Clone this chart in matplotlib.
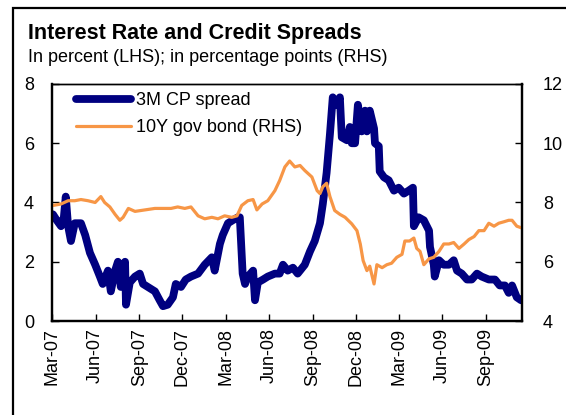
import matplotlib
matplotlib.use("Agg")
import matplotlib.pyplot as plt
import matplotlib.dates as mdates
import matplotlib.patches as patches
import pandas as pd

plt.rcParams['font.family'] = ['Liberation Sans', 'DejaVu Sans']

title = "Interest Rate and Credit Spreads"
subtitle = "In percent (LHS); in percentage points (RHS)"
cp_label = "3M CP spread"
bond_label = "10Y gov bond (RHS)"

cp_dates = ["2007-03-03", "2007-03-11", "2007-03-20", "2007-03-26", "2007-03-30", "2007-04-04",
            "2007-04-10", "2007-04-18", "2007-05-01", "2007-05-10", "2007-05-20", "2007-05-31",
            "2007-06-10", "2007-06-16", "2007-06-27", "2007-07-03", "2007-07-12", "2007-07-18",
            "2007-07-24", "2007-08-02", "2007-08-04", "2007-08-12", "2007-08-23", "2007-09-02",
            "2007-09-09", "2007-09-19", "2007-10-04", "2007-10-14", "2007-10-21", "2007-10-31",
            "2007-11-11", "2007-11-17", "2007-11-28", "2007-12-08", "2007-12-19", "2008-01-03",
            "2008-01-17", "2008-02-01", "2008-02-07", "2008-02-18", "2008-02-24", "2008-03-06",
            "2008-03-16", "2008-03-27", "2008-03-31", "2008-04-06", "2008-04-11", "2008-04-17",
            "2008-04-28", "2008-05-02", "2008-05-08", "2008-05-19", "2008-05-29", "2008-06-13",
            "2008-06-23", "2008-06-30", "2008-07-10", "2008-07-21", "2008-07-31", "2008-08-15",
            "2008-08-26", "2008-09-05", "2008-09-16", "2008-09-22", "2008-09-30", "2008-10-07",
            "2008-10-13", "2008-10-22", "2008-10-28", "2008-11-01", "2008-11-12", "2008-11-18",
            "2008-11-22", "2008-11-29", "2008-12-05", "2008-12-13", "2008-12-20", "2008-12-24",
            "2008-12-30", "2009-01-08", "2009-01-10", "2009-01-18", "2009-01-20", "2009-01-29",
            "2009-02-08", "2009-02-19", "2009-03-01", "2009-03-12", "2009-03-22", "2009-03-31",
            "2009-04-02", "2009-04-12", "2009-04-23", "2009-05-04", "2009-05-06", "2009-05-14",
            "2009-05-16", "2009-05-25", "2009-06-04", "2009-06-15", "2009-06-25", "2009-07-02",
            "2009-07-12", "2009-07-23", "2009-08-02", "2009-08-13", "2009-08-23", "2009-09-07",
            "2009-09-20", "2009-09-30", "2009-10-11", "2009-10-19", "2009-10-26", "2009-11-05",
            "2009-11-14"]
cp_values = [3.6, 3.4, 3.2, 3.5, 4.2, 3.2,
             2.7, 3.3, 3.3, 2.9, 2.3, 1.9,
             1.5, 1.25, 1.7, 1.0, 1.7, 2.0,
             1.15, 2.0, 0.55, 1.3, 1.5, 1.6,
             1.25, 1.15, 1.0, 0.7, 0.5, 0.55,
             0.8, 1.25, 1.15, 1.4, 1.5, 1.6,
             1.9, 2.15, 1.7, 2.6, 2.9, 3.3,
             3.4, 3.5, 3.5, 1.6, 1.25, 1.5,
             1.7, 0.7, 1.3, 1.4, 1.5, 1.6,
             1.6, 1.9, 1.7, 1.8, 1.6, 1.9,
             2.35, 2.7, 3.3, 3.95, 5.0, 6.3,
             7.55, 7.3, 7.55, 6.2, 6.1, 6.55,
             6.0, 6.0, 7.3, 6.4, 7.1, 6.4,
             7.1, 6.5, 6.0, 5.9, 5.05, 4.85,
             4.75, 4.4, 4.5, 4.3, 4.4, 4.5,
             3.2, 3.5, 3.4, 3.05, 2.5, 1.9,
             1.5, 2.05, 1.9, 1.9, 2.05, 1.7,
             1.6, 1.4, 1.4, 1.6, 1.5, 1.4,
             1.4, 1.2, 1.2, 0.95, 1.2, 0.8,
             0.7]

bond_dates = ["2007-03-03", "2007-03-20", "2007-04-04", "2007-04-18", "2007-05-01", "2007-05-16",
              "2007-05-31", "2007-06-12", "2007-06-20", "2007-07-01", "2007-07-12", "2007-07-22",
              "2007-07-29", "2007-08-09", "2007-08-23", "2007-09-13", "2007-10-04", "2007-10-25",
              "2007-11-07", "2007-11-21", "2007-12-06", "2007-12-19", "2008-01-03", "2008-01-17",
              "2008-02-01", "2008-02-14", "2008-02-28", "2008-03-14", "2008-03-25", "2008-04-04",
              "2008-04-17", "2008-04-28", "2008-05-06", "2008-05-17", "2008-05-29", "2008-06-13",
              "2008-06-23", "2008-07-04", "2008-07-14", "2008-07-25", "2008-08-05", "2008-08-15",
              "2008-08-30", "2008-09-10", "2008-09-16", "2008-09-22", "2008-09-30", "2008-10-07",
              "2008-10-17", "2008-10-28", "2008-11-08", "2008-11-22", "2008-12-03", "2008-12-10",
              "2008-12-16", "2008-12-24", "2008-12-30", "2009-01-08", "2009-01-14", "2009-01-25",
              "2009-02-04", "2009-02-14", "2009-02-25", "2009-03-08", "2009-03-14", "2009-03-24",
              "2009-04-02", "2009-04-08", "2009-04-15", "2009-04-23", "2009-05-04", "2009-05-14",
              "2009-05-25", "2009-06-04", "2009-06-15", "2009-06-25", "2009-07-06", "2009-07-17",
              "2009-07-27", "2009-08-07", "2009-08-17", "2009-08-28", "2009-09-07", "2009-09-18",
              "2009-09-28", "2009-10-09", "2009-10-19", "2009-10-26", "2009-11-05", "2009-11-14"]
bond_values = [7.9, 7.95, 8.06, 8.06, 8.1, 8.06,
               8.0, 8.2, 8.0, 7.85, 7.6, 7.4,
               7.5, 7.8, 7.7, 7.75, 7.8, 7.8,
               7.8, 7.85, 7.8, 7.85, 7.55, 7.45,
               7.5, 7.45, 7.55, 7.5, 7.55, 7.9,
               8.06, 8.1, 7.75, 7.95, 8.06, 8.4,
               8.74, 9.2, 9.4, 9.2, 9.25, 9.08,
               8.86, 8.4, 8.3, 8.53, 8.65, 8.2,
               7.73, 7.6, 7.5, 7.28, 7.05, 6.6,
               6.04, 5.7, 5.85, 5.25, 5.9, 5.8,
               5.9, 5.95, 6.15, 6.25, 6.7, 6.7,
               6.8, 6.45, 6.35, 5.9, 6.1, 6.15,
               6.35, 6.6, 6.6, 6.65, 6.45, 6.6,
               6.75, 6.85, 7.05, 7.05, 7.3, 7.2,
               7.3, 7.35, 7.4, 7.4, 7.2, 7.15]

W, H = 566, 415
fig = plt.figure(figsize=(W / 100, H / 100), dpi=100)

# outer frame
fig.add_artist(patches.Rectangle((13 / W, -0.05), 1.2, (H - 8) / H + 0.05, transform=fig.transFigure,
                                 fill=False, edgecolor='black', linewidth=1.6))

fig.text(28 / W, 1 - 33 / H, title, fontsize=15.5, fontweight='bold', va='center', ha='left')
fig.text(28 / W, 1 - 57 / H, subtitle, fontsize=13, va='center', ha='left')

ax = fig.add_axes([52 / W, 1 - 321 / H, (522 - 52) / W, (321 - 84) / H])
ax2 = ax.twinx()

cp_x = pd.to_datetime(cp_dates)
bond_x = pd.to_datetime(bond_dates)

l1, = ax.plot(cp_x, cp_values, color='#000080', linewidth=5.6, solid_joinstyle='round',
              solid_capstyle='round', label=cp_label)
l2, = ax2.plot(bond_x, bond_values, color='#F79646', linewidth=2.3, solid_joinstyle='round',
               solid_capstyle='round', label=bond_label)

ax.set_ylim(0, 8)
ax2.set_ylim(4, 12)
ax.set_yticks([0, 2, 4, 6, 8])
ax2.set_yticks([4, 6, 8, 10, 12])
ax.set_xlim(pd.Timestamp("2007-03-01"), pd.Timestamp("2009-11-16"))
ax.xaxis.set_major_locator(mdates.MonthLocator(bymonth=[3, 6, 9, 12]))
ax.xaxis.set_major_formatter(mdates.DateFormatter('%b-%y'))

for a in (ax, ax2):
    for s in ('left', 'right', 'bottom'):
        a.spines[s].set_linewidth(1.6)
    a.spines['top'].set_linewidth(1.0)

ax.tick_params(axis='x', direction='in', length=5, width=1, labelsize=13, rotation=90, pad=5)
ax.tick_params(axis='y', direction='in', length=5, width=1, labelsize=13, pad=13)
ax2.tick_params(axis='y', direction='in', length=5, width=1, labelsize=13, pad=15)

ax2.legend(handles=[l1, l2], loc='upper left', bbox_to_anchor=(0.05, 0.965), frameon=False,
           fontsize=13, handlelength=3.1, handletextpad=0.25, labelspacing=0.55,
           borderpad=0, borderaxespad=0)

fig.savefig("out.png", dpi=100)
